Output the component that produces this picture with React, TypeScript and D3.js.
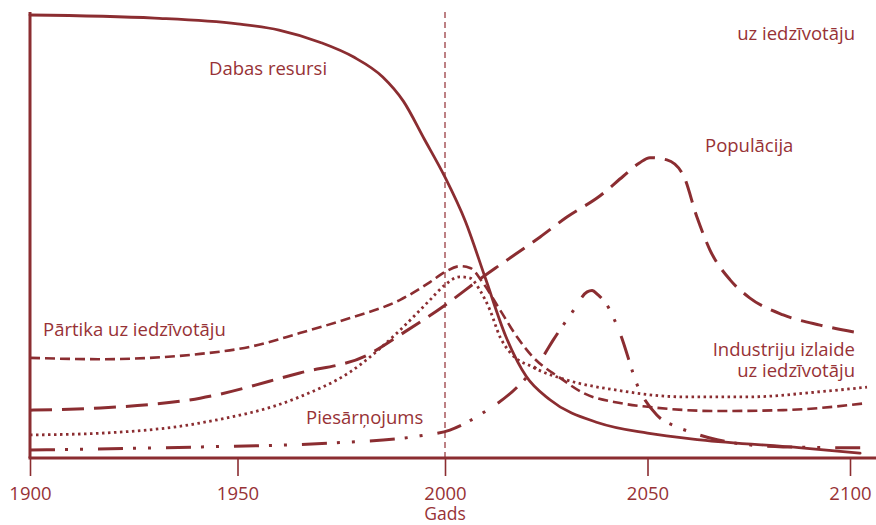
import { useEffect, useRef } from "react"
import * as d3 from "d3"

type Pt = [number, number]

// values: [year, relative level 0..100]
const resources: Pt[] = [
  [1900, 100], [1930, 99.3], [1950, 98], [1960, 96.6], [1970, 93.8], [1978, 90.5],
  [1985, 86], [1990, 80.5], [1995, 72], [2000, 63.4], [2005, 53.5], [2010, 40.5],
  [2015, 27.5], [2020, 18.5], [2026, 13.1], [2038, 7.9], [2050, 5.6], [2063, 4.1],
  [2088, 2.3], [2102.5, 1.1],
]

const population: Pt[] = [
  [1900, 10.8], [1917, 11.3], [1941, 13.5], [1965, 19.2], [1981.2, 23.2], [1989.2, 27.8],
  [2000, 34.5], [2009.4, 40.9], [2013.6, 43.6], [2023.5, 49.9], [2030.1, 54.4], [2038.3, 59.2],
  [2044, 63.6], [2048, 66.6], [2050.6, 67.8], [2054.8, 67.3], [2058.8, 63.9], [2062.2, 54.4],
  [2065.4, 47], [2070.4, 40.2], [2075.3, 36.1], [2083.5, 32.3], [2092.6, 30], [2102.5, 28.2],
]

const foodPerCapita: Pt[] = [
  [1900, 22.6], [1917, 22.3], [1941, 23.5], [1953, 25.1], [1965, 28.2], [1977.1, 31.6],
  [1989.2, 35.7], [1996.4, 39.7], [2000, 42], [2003.7, 43.3], [2006.2, 42.9], [2009.4, 39.5],
  [2013.6, 33.4], [2017.8, 27.3], [2021.7, 22.8], [2028.4, 18.1], [2034.1, 14.7], [2043.2, 12.4],
  [2050.6, 11.5], [2067.2, 10.6], [2083.5, 10.8], [2104.2, 12.4],
]

const industryPerCapita: Pt[] = [
  [1900, 5.2], [1917, 5.6], [1941, 7.9], [1965, 13.8], [1977.1, 19.4], [1989.2, 28.9],
  [1996.4, 35.7], [2000, 39.1], [2003.7, 40.9], [2006.2, 40.6], [2008.6, 37.9], [2011.1, 33.4],
  [2013.6, 27.3], [2016, 23.9], [2021.7, 20.5], [2030.1, 17.6], [2042.5, 15.3], [2058.8, 13.8],
  [2075.3, 13.8], [2091.9, 14.9], [2104.2, 16],
]

const pollution: Pt[] = [
  [1900, 1.8], [1941, 2.5], [1973, 3.4], [1994, 5], [2001.2, 6.3], [2009.4, 10.2],
  [2017.8, 16], [2024, 22.6], [2026.7, 26.6], [2031.4, 32.9], [2035.1, 37.5], [2036.3, 37.8],
  [2037.8, 36.8], [2039.8, 34.8], [2043.2, 28.2], [2047.7, 16], [2052.3, 9.7], [2057.3, 7],
  [2060.5, 5.9], [2067.2, 4.1], [2083.5, 2.5], [2103.2, 2.3],
]

const yearTicks = [1900, 1950, 2000, 2050, 2100]

const LINE = "#8b2d31"
const TEXT = "#973236"
const FONT = "'Open Sans', 'Noto Sans', sans-serif"
const FS = 18.5

export default function App() {
  const svgRef = useRef<SVGSVGElement | null>(null)

  useEffect(() => {
    const width = 876
    const height = 525
    const svg = d3.select(svgRef.current)
    svg.selectAll("*").remove()
    svg.attr("width", width).attr("height", height)

    const x = d3.scaleLinear().domain([1900, 2000, 2100]).range([30, 445, 850])
    const y = d3.scaleLinear().domain([0, 100]).range([458, 15])

    // 2000 marker
    svg
      .append("line")
      .attr("x1", x(2000))
      .attr("x2", x(2000))
      .attr("y1", 12)
      .attr("y2", y(0))
      .attr("stroke", "#a8585c")
      .attr("stroke-width", 1.5)
      .attr("stroke-dasharray", "6,4")

    const line = d3
      .line<Pt>()
      .x((d) => x(d[0]))
      .y((d) => y(d[1]))
      .curve(d3.curveMonotoneX)

    const series: { data: Pt[]; dash: string | null; width: number; cap: string }[] = [
      { data: population, dash: "22,10", width: 3, cap: "butt" },
      { data: foodPerCapita, dash: "10,5", width: 2.6, cap: "butt" },
      { data: industryPerCapita, dash: "2.5,3.5", width: 2.8, cap: "butt" },
      { data: pollution, dash: "25,10,3,12,3,15", width: 3, cap: "butt" },
      { data: resources, dash: null, width: 2.8, cap: "round" },
    ]

    series.forEach((s) => {
      svg
        .append("path")
        .datum(s.data)
        .attr("d", line)
        .attr("fill", "none")
        .attr("stroke", LINE)
        .attr("stroke-width", s.width)
        .attr("stroke-linecap", s.cap)
        .attr("stroke-dasharray", s.dash)
    })

    // axes
    svg
      .append("line")
      .attr("x1", x(1900))
      .attr("x2", x(1900))
      .attr("y1", 12)
      .attr("y2", y(0))
      .attr("stroke", LINE)
      .attr("stroke-width", 3)
    svg
      .append("line")
      .attr("x1", x(1900) - 1.5)
      .attr("x2", width)
      .attr("y1", y(0))
      .attr("y2", y(0))
      .attr("stroke", LINE)
      .attr("stroke-width", 3)

    const xAxis = svg
      .append("g")
      .attr("transform", `translate(0,${y(0)})`)
      .call(d3.axisBottom(x).tickValues(yearTicks).tickSize(18).tickSizeOuter(0).tickFormat(d3.format("d")))
    xAxis.select(".domain").remove()
    xAxis.selectAll(".tick line").attr("stroke", LINE).attr("stroke-width", 1.6)
    xAxis
      .selectAll(".tick text")
      .attr("fill", TEXT)
      .attr("font-family", FONT)
      .attr("font-size", FS)
      .attr("y", 42)
      .attr("dy", null)

    const label = (t: string, lx: number, ly: number, anchor = "start", fs = FS) =>
      svg
        .append("text")
        .attr("x", lx)
        .attr("y", ly)
        .attr("text-anchor", anchor)
        .attr("fill", TEXT)
        .attr("font-family", FONT)
        .attr("font-size", fs)
        .text(t)

    label("Gads", x(2000), 520, "middle", 17.5)
    label("Dabas resursi", 209, 75)
    label("uz iedzīvotāju", 855, 40, "end")
    label("Populācija", 705, 152)
    label("Pārtika uz iedzīvotāju", 43, 336)
    label("Piesārņojums", 306, 424)
    label("Industriju izlaide", 855, 356, "end")
    label("uz iedzīvotāju", 855, 377, "end")
  }, [])

  return (
    <div style={{ position: "fixed", left: 0, top: 0, background: "white" }}>
      <svg ref={svgRef} style={{ display: "block" }} />
    </div>
  )
}
